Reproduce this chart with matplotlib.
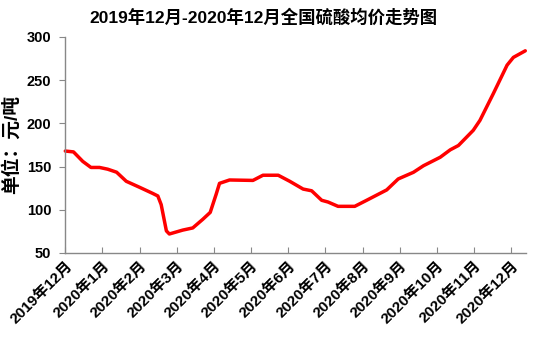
import matplotlib
matplotlib.use("Agg")
import matplotlib.pyplot as plt

plt.rcParams['font.family'] = ['Liberation Sans', 'Noto Sans CJK SC', 'DejaVu Sans']

# month position (0 = 2019年12月) and average price (元/吨)
month_pos = [0.0, 0.22, 0.47, 0.69, 0.92, 1.14, 1.38, 1.64, 2.0, 2.35, 2.49, 2.58,
             2.72, 2.80, 3.16, 3.43, 3.70, 3.90, 4.06, 4.15, 4.42, 5.05, 5.32, 5.73,
             6.04, 6.40, 6.63, 6.90, 7.07, 7.34, 7.79, 8.11, 8.47, 8.65, 8.96, 9.37,
             9.64, 10.09, 10.36, 10.58, 10.98, 11.16, 11.52, 11.89, 12.06, 12.38]
price = [168, 167, 156, 149, 149, 147, 143.5, 133, 126, 119, 116, 106,
         75.6, 72, 76.5, 79, 89, 97, 118, 130.6, 134.5, 134, 140, 140,
         133, 124, 122, 111, 109, 104, 104, 111, 119, 123, 135.7, 143.4,
         151, 160.8, 169.4, 174.4, 192, 203.5, 234.5, 267.4, 276.4, 284]

month_labels = ["2019年12月", "2020年1月", "2020年2月", "2020年3月", "2020年4月",
                "2020年5月", "2020年6月", "2020年7月", "2020年8月", "2020年9月",
                "2020年10月", "2020年11月", "2020年12月"]
y_ticks = [50, 100, 150, 200, 250, 300]

fig = plt.figure(figsize=(5.48, 3.39), dpi=100)
ax = fig.add_axes([0.1192, 0.2537, 0.9599 - 0.1192, 0.8909 - 0.2537])

ax.plot(month_pos, price, color='#FF0000', lw=2.5, solid_joinstyle='round',
        solid_capstyle='round', clip_on=False)

ax.set_xlim(0, 12.4)
ax.set_ylim(50, 300)
ax.set_yticks(y_ticks)
ax.set_yticklabels([str(v) for v in y_ticks], fontsize=10.5, fontweight='bold')
ax.set_xticks(range(len(month_labels)))
ax.set_xticklabels(month_labels, rotation=45, ha='right', rotation_mode='anchor',
                   fontsize=11, fontweight='bold')

for s in ['top', 'right']:
    ax.spines[s].set_visible(False)
for s in ['left', 'bottom']:
    ax.spines[s].set_color('#888888')
    ax.spines[s].set_linewidth(1.0)
ax.tick_params(axis='y', direction='out', length=4, color='#888888', pad=6)
ax.tick_params(axis='x', direction='in', length=4, color='#888888', pad=4)

ax.set_ylabel("单位：元/吨", fontsize=13.5, fontweight='bold', labelpad=4)
fig.suptitle("2019年12月-2020年12月全国硫酸均价走势图", fontsize=12.5,
             fontweight='bold', x=0.48, y=0.975)

fig.savefig("out.png", dpi=100)
